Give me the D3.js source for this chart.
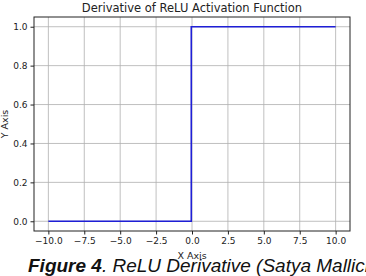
<!DOCTYPE html>
<html>
<head>
<meta charset="utf-8">
<script src="https://cdn.jsdelivr.net/npm/d3@7"></script>
<style>
  body { margin: 0; background: #fff; }
  svg { display: block; }
</style>
</head>
<body>
<div id="chart"></div>
<script>
const xValues = [-10, -0.05, -0.05, 10];
const yValues = [0, 0, 1, 1];
const xTicks = [-10, -7.5, -5, -2.5, 0, 2.5, 5, 7.5, 10];
const yTicks = [0, 0.2, 0.4, 0.6, 0.8, 1.0];

const width = 366, height = 276;
const margin = { left: 34, right: 16, top: 17, bottom: 45 };

const svg = d3.select("#chart").append("svg")
  .attr("width", width)
  .attr("height", height);

const x = d3.scaleLinear().domain([-11, 11]).range([margin.left, width - margin.right]);
const y = d3.scaleLinear().domain([-0.05, 1.05]).range([height - margin.bottom, margin.top]);

// grid
svg.append("g")
  .selectAll("line")
  .data(xTicks)
  .enter()
  .append("line")
  .attr("x1", (d) => x(d)).attr("x2", (d) => x(d))
  .attr("y1", y.range()[0]).attr("y2", y.range()[1])
  .attr("stroke", "#b0b0b0").attr("stroke-width", 0.8);

svg.append("g")
  .selectAll("line")
  .data(yTicks)
  .enter()
  .append("line")
  .attr("y1", (d) => y(d)).attr("y2", (d) => y(d))
  .attr("x1", x.range()[0]).attr("x2", x.range()[1])
  .attr("stroke", "#b0b0b0").attr("stroke-width", 0.8);

// line
const pts = xValues.map((v, i) => [v, yValues[i]]);
svg.append("path")
  .datum(pts)
  .attr("fill", "none")
  .attr("stroke", "#1f1fd6")
  .attr("stroke-width", 1.6)
  .attr("d", d3.line().x((d) => x(d[0])).y((d) => y(d[1])));

// frame
svg.append("rect")
  .attr("x", x.range()[0]).attr("y", y.range()[1])
  .attr("width", x.range()[1] - x.range()[0])
  .attr("height", y.range()[0] - y.range()[1])
  .attr("fill", "none").attr("stroke", "#222").attr("stroke-width", 1);

// axes
const fmt = (d) => (d < 0 ? "\u2212" : "") + Math.abs(d).toFixed(1);
const xAxis = svg.append("g")
  .attr("transform", `translate(0,${y.range()[0]})`)
  .call(d3.axisBottom(x).tickValues(xTicks).tickSize(3.5).tickPadding(3).tickFormat(fmt));
const yAxis = svg.append("g")
  .attr("transform", `translate(${x.range()[0]},0)`)
  .call(d3.axisLeft(y).tickValues(yTicks).tickSize(3.5).tickPadding(3).tickFormat((d) => d.toFixed(1)));

[xAxis, yAxis].forEach((g) => {
  g.select(".domain").remove();
  g.selectAll("text").style("font-family", "DejaVu Sans").style("font-size", "9px").attr("fill", "#222");
  g.selectAll("line").attr("stroke", "#222");
});

// title and labels
svg.append("text")
  .attr("x", (x.range()[0] + x.range()[1]) / 2)
  .attr("y", 12)
  .attr("text-anchor", "middle")
  .style("font-family", "DejaVu Sans")
  .style("font-size", "11.5px")
  .attr("fill", "#222")
  .text("Derivative of ReLU Activation Function");

svg.append("text")
  .attr("x", x(0))
  .attr("y", 259)
  .attr("text-anchor", "middle")
  .style("font-family", "DejaVu Sans")
  .style("font-size", "9.5px")
  .attr("fill", "#222")
  .text("X Axis");

svg.append("text")
  .attr("transform", `translate(8,${y(0.5)}) rotate(-90)`)
  .attr("text-anchor", "middle")
  .style("font-family", "DejaVu Sans")
  .style("font-size", "9.5px")
  .attr("fill", "#222")
  .text("Y Axis");

// caption
const cap = svg.append("text")
  .attr("x", 28)
  .attr("y", 272)
  .style("font-family", "Liberation Sans")
  .style("font-size", "19px")
  .style("font-style", "italic")
  .attr("fill", "#111");
cap.append("tspan").style("font-weight", "bold").text("Figure 4");
cap.append("tspan").text(". ReLU Derivative (Satya Mallick)");
</script>
</body>
</html>
